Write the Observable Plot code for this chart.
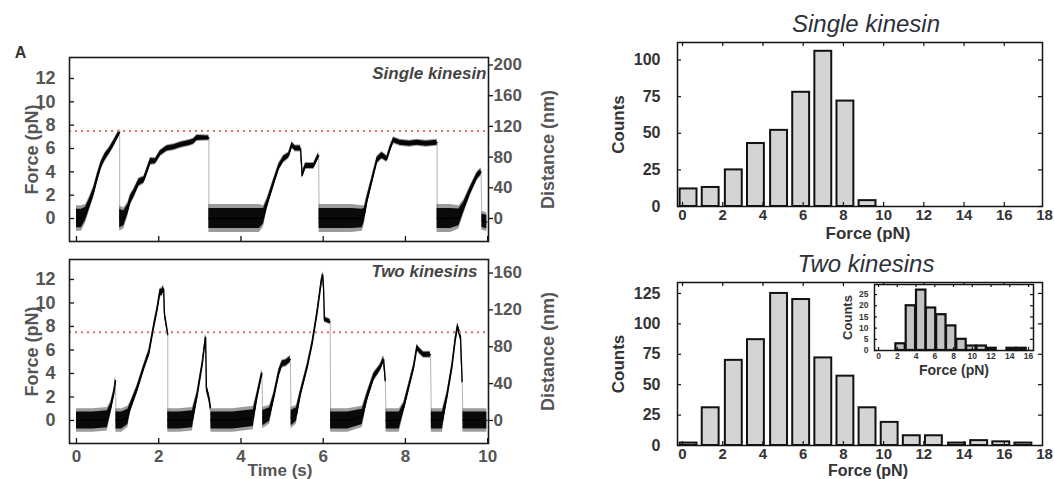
<!DOCTYPE html>
<html><head><meta charset="utf-8">
<script src="https://cdn.jsdelivr.net/npm/d3@7"></script>
<script src="https://cdn.jsdelivr.net/npm/@observablehq/plot@0.6"></script>
<style>
html,body{margin:0;padding:0;background:#fff;}
#fig{position:relative;width:1054px;height:479px;overflow:hidden;background:#fff;}
#fig svg{position:absolute;left:0;top:0;}
</style></head><body><div id="fig"></div>
<script>
// ---------- data ----------
const forceTicks = [0, 2, 4, 6, 8, 10, 12];
const timeTicks = [0, 2, 4, 6, 8, 10];
const nmTicksSingle = [0, 40, 80, 120, 160, 200];
const nmTicksTwo = [0, 40, 80, 120, 160];
const nmPerPNSingle = 15.2;
const nmPerPNTwo = 12.75;
const stallForce = 7.5;

const singleTime = [0,0.12,0.22,0.32,0.42,0.5,0.6,0.7,0.8,0.9,1.05,
  1.05,1.15,1.25,1.31,1.39,1.52,1.64,1.72,1.8,1.92,2.04,2.2,2.37,2.53,2.77,2.85,2.93,3.22,
  3.22,3.6,4.0,4.45,4.55,4.64,4.8,4.92,5.04,5.16,5.24,5.32,5.45,5.49,5.57,5.77,5.89,
  5.9,6.3,6.7,6.95,7.0,7.07,7.19,7.31,7.43,7.55,7.63,7.71,7.87,8.1,8.28,8.5,8.77,
  8.77,9.1,9.3,9.42,9.58,9.74,9.84,
  9.86,9.98];
const singleForce = [0,0,0.4,1.3,2.3,3.4,4.6,5.3,5.8,6.4,7.4,
  0,0,0.8,1.6,2.1,3.1,3.3,4.1,4.9,4.9,5.6,6.0,6.1,6.3,6.5,6.6,6.9,6.9,
  0,0,0,0,0.2,1.3,3.1,4.4,5.1,5.4,6.3,6.0,6.0,3.7,4.5,4.5,5.4,
  0,0,0,0,0.3,1.6,3.3,5.0,5.4,5.1,6.0,6.7,6.5,6.4,6.5,6.4,6.5,
  0,0,0.1,1.0,2.4,3.6,4.0,
  -0.2,-0.3];
const singleSpread = [1.1,1.1,0.8,0.6,0.5,0.45,0.4,0.4,0.35,0.35,0.3,
  1.1,0.9,0.6,0.5,0.45,0.4,0.35,0.35,0.35,0.3,0.3,0.3,0.3,0.3,0.3,0.3,0.3,0.25,
  1.2,1.2,1.2,1.2,0.9,0.5,0.4,0.35,0.35,0.3,0.3,0.3,0.3,0.3,0.3,0.3,0.3,
  1.2,1.2,1.2,1.1,0.8,0.5,0.4,0.35,0.35,0.3,0.3,0.3,0.3,0.3,0.3,0.3,0.3,
  1.2,1.2,1.0,0.6,0.45,0.4,0.35,
  0.8,0.8];
const singleSeg = [0,0,0,0,0,0,0,0,0,0,0,
  1,1,1,1,1,1,1,1,1,1,1,1,1,1,1,1,1,1,
  2,2,2,2,2,2,2,2,2,2,2,2,2,2,2,2,2,
  3,3,3,3,3,3,3,3,3,3,3,3,3,3,3,3,3,
  4,4,4,4,4,4,4,
  5,5];

const twoTime = [0,0.4,0.75,0.83,0.91,0.95,
  0.96,1.1,1.25,1.31,1.47,1.64,1.76,1.88,1.96,2.03,2.08,2.12,2.14,2.19,2.22,
  2.22,2.5,2.82,2.93,3.06,3.14,3.16,3.22,3.26,
  3.27,3.8,4.3,4.39,4.51,
  4.53,4.7,4.8,4.92,5.0,5.1,5.2,
  5.22,5.35,5.45,5.61,5.73,5.85,5.95,5.99,6.01,6.03,6.17,
  6.18,6.6,6.95,7.07,7.23,7.39,7.47,7.51,
  7.53,7.85,7.96,8.08,8.2,8.28,8.35,8.44,8.61,
  8.63,8.9,9.01,9.13,9.21,9.27,9.34,9.38,
  9.4,9.7,9.98];
const twoForce = [0,0,0.1,1.0,2.3,3.4,
  0,0,0.3,1.1,2.6,4.5,5.7,8.0,9.4,10.9,10.9,11.2,9.1,8.0,7.3,
  0,0,0.1,2.0,4.8,7.1,2.8,2.0,1.1,
  0,0,0.2,2.0,4.0,
  0.2,0.5,2.0,4.0,4.8,4.9,5.2,
  0.2,0.5,2.3,4.5,6.5,9.1,11.7,12.4,11.2,8.6,8.4,
  0,0,0.3,2.0,3.7,4.5,5.2,3.4,
  0,0,1.1,2.8,4.5,6.2,5.9,5.6,5.6,
  0,0,2.0,4.5,6.8,8.0,7.1,3.3,
  0,0,0];
const twoSpread = [1.0,1.0,1.0,0.6,0.4,0.35,
  1.0,1.0,0.9,0.5,0.4,0.35,0.35,0.35,0.35,0.35,0.4,0.35,0.3,0.25,0.2,
  1.0,1.0,1.0,0.45,0.35,0.3,0.4,0.4,0.4,
  1.0,1.0,1.0,0.45,0.35,
  0.9,0.8,0.45,0.4,0.35,0.35,0.35,
  0.9,0.8,0.4,0.35,0.35,0.35,0.35,0.3,0.3,0.25,0.25,
  1.0,1.0,0.9,0.5,0.4,0.35,0.35,0.3,
  1.0,1.0,0.5,0.4,0.35,0.3,0.3,0.3,0.3,
  1.0,1.0,0.45,0.4,0.35,0.35,0.35,0.3,
  1.0,1.0,1.0];
const twoSeg = [0,0,0,0,0,0,
  1,1,1,1,1,1,1,1,1,1,1,1,1,1,1,
  2,2,2,2,2,2,2,2,2,
  3,3,3,3,3,
  4,4,4,4,4,4,4,
  5,5,5,5,5,5,5,5,5,5,5,
  6,6,6,6,6,6,6,6,
  7,7,7,7,7,7,7,7,7,
  8,8,8,8,8,8,8,8,
  9,9,9];

const histForceTicks = [0, 2, 4, 6, 8, 10, 12, 14, 16, 18];
const countTicksSingle = [0, 25, 50, 75, 100];
const countTicksTwo = [0, 25, 50, 75, 100, 125];
const binCentersSingle = [0.3, 1.4, 2.55, 3.65, 4.8, 5.9, 7.0, 8.1, 9.2];
const countsSingle = [12, 13, 25, 43, 52, 78, 106, 72, 4];
const binCentersTwo = [0.3, 1.4, 2.55, 3.65, 4.8, 5.9, 7.0, 8.1, 9.2, 10.3, 11.4, 12.5, 13.65, 14.75, 15.85, 16.95];
const countsTwo = [2, 31, 70, 87, 125, 120, 72, 57, 31, 19, 8, 8, 2, 4, 3, 2];
const insetForceTicks = [0, 2, 4, 6, 8, 10, 12, 14, 16];
const insetCountTicks = [0, 5, 10, 15, 20, 25];
const insetCenters = [2.35, 3.45, 4.55, 5.6, 6.7, 7.75, 8.85, 9.9, 11.0, 12.05, 14.2, 15.25];
const insetCounts = [3, 20, 27, 19, 16, 11, 5, 2, 2, 1, 1, 1];

// ---------- layout ----------
const W = 1054, H = 479;
const FONT = "'Liberation Sans', Arial, Helvetica, sans-serif";
const STYLE = {background: "transparent", overflow: "visible", fontFamily: FONT};
const fig = document.getElementById("fig");

function margins(b) {
  return {marginLeft: b[0], marginRight: W - b[1], marginTop: b[2], marginBottom: H - b[3]};
}
function innerTicks(b, xt, yt, sides, len, sw) {
  const pw = b[1] - b[0], ph = b[3] - b[2];
  const m = [];
  const st = {stroke: "#111", strokeWidth: sw};
  if (sides.includes("bottom")) m.push(Plot.tickX(xt, {x: d => d, insetTop: ph - len, ...st}));
  if (sides.includes("top")) m.push(Plot.tickX(xt, {x: d => d, insetBottom: ph - len, ...st}));
  if (sides.includes("left")) m.push(Plot.tickY(yt, {y: d => d, insetRight: pw - len, ...st}));
  if (sides.includes("right")) m.push(Plot.tickY(yt, {y: d => d, insetLeft: pw - len, ...st}));
  return m;
}

function tracePlot(o) {
  const pts = o.time.map((t, i) => ({t, f: o.force[i], s: o.spread[i], seg: o.seg[i]}));
  const pw = o.box[1] - o.box[0];
  const lab = {fontWeight: "bold", fill: "#555", lineAnchor: "middle"};
  const marks = [
    Plot.line(pts, {x: "t", y: "f", stroke: "#a0a0a0", strokeWidth: 0.8}),
    Plot.areaY(pts, {x: "t", y1: d => d.f - d.s, y2: d => d.f + d.s, z: "seg", fill: "#3a3a3a", fillOpacity: 0.5}),
    Plot.areaY(pts, {x: "t", y1: d => d.f - 0.72 * d.s, y2: d => d.f + 0.72 * d.s, z: "seg", fill: "#0a0a0a"}),
    Plot.line(pts, {x: "t", y: "f", z: "seg", stroke: "#000", strokeWidth: 1.3}),
    Plot.ruleY([stallForce], {stroke: "#e46f5e", strokeWidth: 2, strokeDasharray: "2,4"}),
    ...innerTicks(o.box, timeTicks, forceTicks, ["bottom", "left"], 5, 1.3),
    Plot.tickY(o.nmTicks, {y: d => d / o.nmPerPN, insetLeft: pw, insetRight: -5, stroke: "#111", strokeWidth: 1.3}),
    Plot.frame({stroke: "#1b1b1b", strokeWidth: 1.6}),
    Plot.text(forceTicks, {y: d => d, text: d => String(d), frameAnchor: "left", dx: -14, textAnchor: "end", fontSize: 18, ...lab}),
    Plot.text(o.nmTicks, {y: d => d / o.nmPerPN, text: d => String(d), frameAnchor: "right", dx: 5, textAnchor: "start", fontSize: 17, ...lab}),
    Plot.text(["Force (pN)"], {frameAnchor: "left", dx: -37, rotate: -90, textAnchor: "middle", fontSize: 18, ...lab}),
    Plot.text(["Distance (nm)"], {frameAnchor: "right", dx: 60, rotate: -90, textAnchor: "middle", fontSize: 18, ...lab}),
    Plot.text([o.title], {frameAnchor: "top-right", dx: o.titleDx, dy: o.titleDy, textAnchor: "end", lineAnchor: "middle", fontSize: 17, fontWeight: "bold", fontStyle: "italic", fill: "#444"})
  ];
  if (o.xLabels) {
    marks.push(Plot.text(timeTicks, {x: d => d, text: d => String(d), frameAnchor: "bottom", dy: 13, textAnchor: "middle", fontSize: 17, ...lab}));
    marks.push(Plot.text(["Time (s)"], {frameAnchor: "bottom", dy: 27, dx: 1, textAnchor: "middle", fontSize: 17, ...lab}));
  }
  if (o.panel) marks.push(Plot.text([o.panel], {frameAnchor: "top-left", dx: -49, dy: -5, textAnchor: "middle", lineAnchor: "middle", fontSize: 16, fontWeight: "bold", fill: "#333"}));
  return Plot.plot({
    width: W, height: H, ...margins(o.box),
    x: {domain: o.xDomain, axis: null},
    y: {domain: o.yDomain, axis: null},
    style: STYLE,
    marks
  });
}

function histPlot(o) {
  const bars = o.centers.map((c, i) => ({c, n: o.counts[i]}));
  const xt = o.xTicks.filter(d => d >= o.xDomain[0] && d <= o.xDomain[1]);
  const lab = {fontWeight: "bold", fill: "#333", lineAnchor: "middle"};
  const marks = [
    Plot.frame({fill: "white"}),
    Plot.rect(bars, {x1: d => d.c - o.half, x2: d => d.c + o.half, y1: 0, y2: "n", fill: o.fill, stroke: "#111", strokeWidth: o.sw}),
    ...innerTicks(o.box, xt, o.yTicks, ["top", "bottom", "left", "right"], o.tick, 1.2),
    Plot.frame({stroke: "#141414", strokeWidth: 1.5}),
    Plot.text(o.yTicks, {y: d => d, text: d => String(d), frameAnchor: "left", dx: o.yLabDx, textAnchor: "end", fontSize: o.tickFs, ...lab}),
    Plot.text(o.xTicks, {x: d => d, text: d => String(d), frameAnchor: "bottom", dy: o.xLabDy, textAnchor: "middle", fontSize: o.xTickFs, ...lab}),
    Plot.text(["Counts"], {frameAnchor: "left", dx: o.countsDx, rotate: -90, textAnchor: "middle", fontSize: o.countsFs, ...lab}),
    Plot.text(["Force (pN)"], {frameAnchor: "bottom", dy: o.forceDy, dx: o.forceDx, textAnchor: "middle", fontSize: o.forceFs, ...lab})
  ];
  if (o.title) marks.push(Plot.text([o.title], {frameAnchor: "top", dx: 6, dy: o.titleDy, textAnchor: "middle", lineAnchor: "middle", fontSize: 24, fontStyle: "italic", fill: "#2c303a", ariaLabel: "hist-title"}));
  return Plot.plot({
    width: W, height: H, ...margins(o.box),
    x: {domain: o.xDomain, axis: null},
    y: {domain: o.yDomain, axis: null},
    style: STYLE,
    marks
  });
}

const plots = [
  tracePlot({time: singleTime, force: singleForce, spread: singleSpread, seg: singleSeg,
    box: [69, 488, 57, 241], xDomain: [-0.17, 10.02], yDomain: [-1.97, 13.8],
    nmTicks: nmTicksSingle, nmPerPN: nmPerPNSingle, title: "Single kinesin", titleDx: -2, titleDy: 16,
    xLabels: false, panel: "A"}),
  tracePlot({time: twoTime, force: twoForce, spread: twoSpread, seg: twoSeg,
    box: [69, 488, 259, 443], xDomain: [-0.17, 10.02], yDomain: [-1.96, 13.7],
    nmTicks: nmTicksTwo, nmPerPN: nmPerPNTwo, title: "Two kinesins", titleDx: -11, titleDy: 12,
    xLabels: true}),
  histPlot({centers: binCentersSingle, counts: countsSingle, box: [677, 1042, 42, 206],
    xDomain: [-0.25, 17.9], yDomain: [0, 112], xTicks: histForceTicks, yTicks: countTicksSingle,
    half: 0.42, sw: 2, fill: "#d4d4d4", tick: 4, yLabDx: -17, xLabDy: 9, tickFs: 16, xTickFs: 15,
    countsDx: -59, countsFs: 17, forceDy: 27, forceDx: 8, forceFs: 17, title: "Single kinesin", titleDy: -18}),
  histPlot({centers: binCentersTwo, counts: countsTwo, box: [677, 1042, 282, 445],
    xDomain: [-0.25, 17.9], yDomain: [0, 134], xTicks: histForceTicks, yTicks: countTicksTwo,
    half: 0.42, sw: 2, fill: "#d4d4d4", tick: 4, yLabDx: -17, xLabDy: 9, tickFs: 16, xTickFs: 15,
    countsDx: -59, countsFs: 17, forceDy: 25, forceDx: 8, forceFs: 16, title: "Two kinesins", titleDy: -18}),
  histPlot({centers: insetCenters, counts: insetCounts, box: [874, 1033, 284, 350],
    xDomain: [-0.43, 16.53], yDomain: [0, 29.5], xTicks: insetForceTicks, yTicks: insetCountTicks,
    half: 0.5, sw: 2.2, fill: "#c4c4c4", tick: 3, yLabDx: -6, xLabDy: 6, tickFs: 8.5, xTickFs: 8.5,
    countsDx: -27, countsFs: 13, forceDy: 20, forceDx: 0, forceFs: 14})
];
for (const p of plots) fig.appendChild(p);
fig.querySelectorAll('g[aria-label="hist-title"] text').forEach(t => t.setAttribute("letter-spacing", "3.4px"));
</script></body></html>
